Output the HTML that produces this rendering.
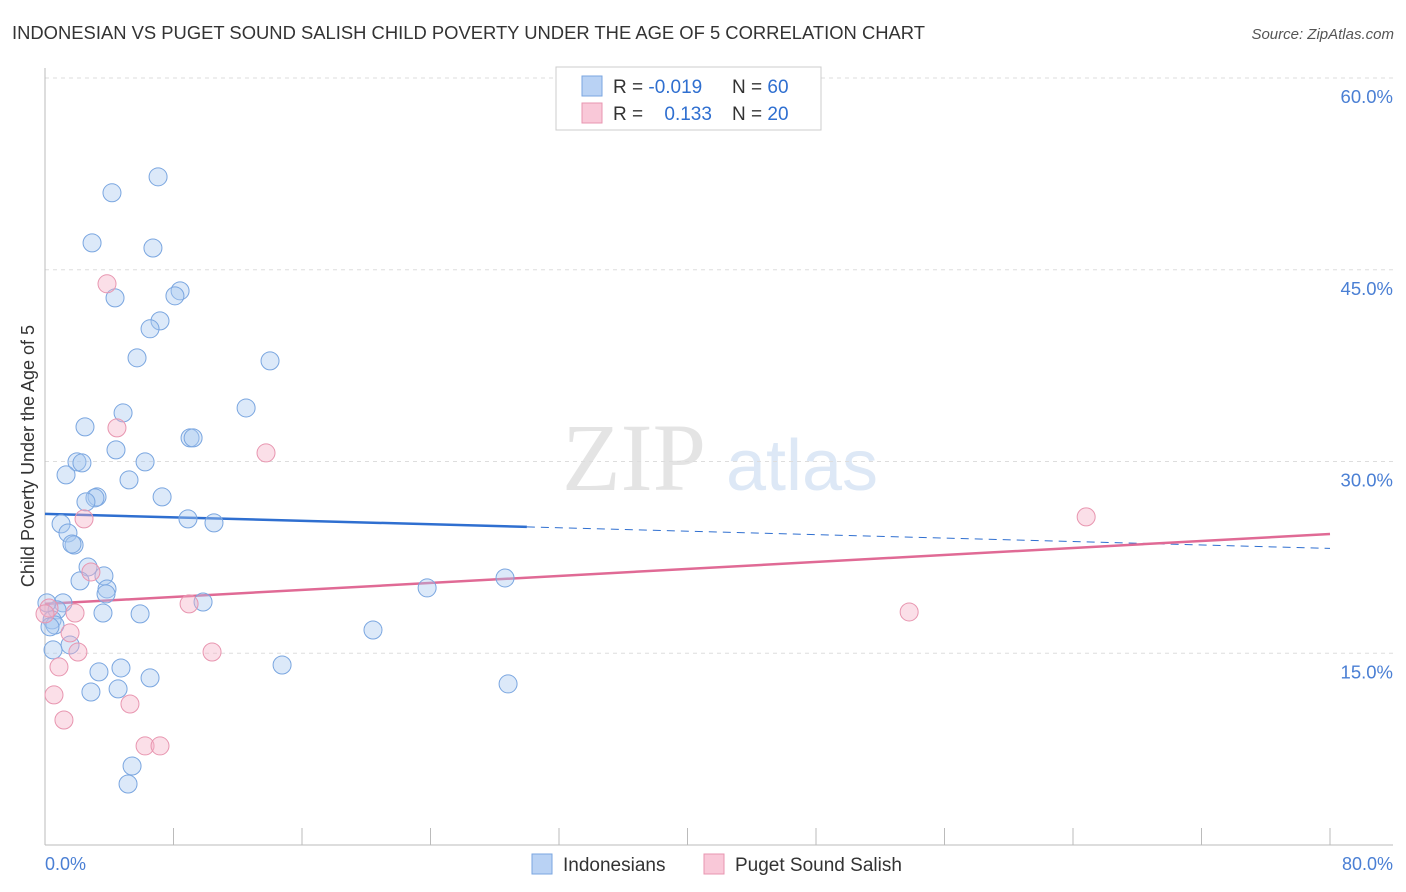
<!DOCTYPE html>
<html><head><meta charset="utf-8">
<style>
body{margin:0;background:#fff;font-family:"Liberation Sans",sans-serif;}
#wrap{position:relative;width:1406px;height:892px;overflow:hidden;}
</style></head>
<body>
<div id="wrap">
<svg id="chart" width="1406" height="892" xmlns="http://www.w3.org/2000/svg">
<text x="12" y="39" font-size="18" fill="#333" textLength="913" lengthAdjust="spacingAndGlyphs">INDONESIAN VS PUGET SOUND SALISH CHILD POVERTY UNDER THE AGE OF 5 CORRELATION CHART</text>
<text x="1394" y="39" font-size="15" fill="#555" text-anchor="end" font-style="italic">Source: ZipAtlas.com</text>
<g>
<text x="634" y="490" font-size="96" fill="#e4e4e4" text-anchor="middle" font-family="Liberation Serif,serif">ZIP</text>
<text x="802" y="490" font-size="72" fill="#dde8f6" text-anchor="middle">atlas</text>
</g>
<g id="grid"></g><g id="axes"></g><g id="lines"></g><g id="pts"></g>
<text x="34" y="456" font-size="18" fill="#333" text-anchor="middle" transform="rotate(-90 34 456)">Child Poverty Under the Age of 5</text>
<text x="45" y="870" font-size="18" fill="#4a7fd4">0.0%</text>
<text x="1393" y="870" font-size="18" fill="#4a7fd4" text-anchor="end">80.0%</text>
<g>
<rect x="556" y="67" width="265" height="63" fill="#fff" stroke="#ccc"/>
<rect x="582" y="76" width="20" height="20" fill="#b9d2f4" stroke="#7aa6e0"/>
<rect x="582" y="103" width="20" height="20" fill="#f9c8d8" stroke="#e896b0"/>
<text x="613" y="93" font-size="19" fill="#333">R = <tspan fill="#2f6fd0">-0.019</tspan></text>
<text x="732" y="93" font-size="19" fill="#333">N = <tspan fill="#2f6fd0">60</tspan></text>
<text x="613" y="120" font-size="19" fill="#333">R = <tspan fill="#2f6fd0" dx="16">0.133</tspan></text>
<text x="732" y="120" font-size="19" fill="#333">N = <tspan fill="#2f6fd0">20</tspan></text>
</g>
<g>
<rect x="532" y="854" width="20" height="20" fill="#b9d2f4" stroke="#7aa6e0"/>
<text x="563" y="871" font-size="19" fill="#333">Indonesians</text>
<rect x="704" y="854" width="20" height="20" fill="#f9c8d8" stroke="#e896b0"/>
<text x="735" y="871" font-size="19" fill="#333">Puget Sound Salish</text>
</g>
</svg>
</div>
<script>
const yTicks=[15,30,45,60];
const yTickLabels=["15.0%","30.0%","45.0%","60.0%"];
const xTicks=[0,8,16,24,32,40,48,56,64,72,80];
const blueX=[7.04,4.17,2.93,6.72,8.41,4.36,8.09,7.16,6.54,5.73,14.01,12.52,4.86,2.49,9.03,9.22,4.42,1.99,2.30,6.23,1.31,5.23,7.29,3.24,3.11,2.55,8.9,10.52,1.0,1.43,1.81,1.68,2.68,3.67,2.18,3.86,3.80,23.79,28.64,9.84,1.12,3.61,5.92,0.75,0.44,0.62,0.31,20.42,1.56,0.5,14.76,4.73,3.36,6.54,4.55,2.86,28.83,5.42,5.17,0.12];
const blueY=[52.27,51.02,47.1,46.7,43.35,42.8,42.96,41.0,40.38,38.11,37.87,34.19,33.8,32.71,31.85,31.85,30.91,29.97,29.89,29.97,28.95,28.56,27.23,27.23,27.15,26.84,25.51,25.2,25.12,24.41,23.47,23.55,21.75,21.05,20.66,20.03,19.64,20.11,20.89,19.01,18.94,18.15,18.08,18.39,17.61,17.21,17.06,16.82,15.65,15.26,14.08,13.85,13.54,13.07,12.21,11.97,12.6,6.18,4.77,18.94];
const pinkX=[3.86,4.48,13.76,64.82,2.43,2.86,0.25,1.87,8.97,53.8,1.56,2.05,10.4,0.87,0.56,5.29,1.18,6.23,7.16,0.0];
const pinkY=[43.9,32.63,30.67,25.67,25.51,21.36,18.54,18.15,18.86,18.23,16.59,15.10,15.10,13.93,11.74,11.03,9.78,7.75,7.75,18.08];
const blueTrend=[25.9,23.2];
const pinkTrend=[18.86,24.33];
const blueSolidEnd=30;

const X=v=>45+v*(1285/80);
const Y=v=>845-v*(767/60);
const NS="http://www.w3.org/2000/svg";
function mk(tag,attrs,parent){const e=document.createElementNS(NS,tag);for(const k in attrs)e.setAttribute(k,attrs[k]);document.getElementById(parent).appendChild(e);return e;}

yTicks.forEach((t,i)=>{
 const g=mk('line',{x1:45,x2:1393,y1:Y(t),y2:Y(t),stroke:'#ddd','stroke-dasharray':'4,4'},'grid');
 
 
 const l=mk('text',{x:1393,y:Y(t)+25,'font-size':18.5,fill:'#4a7fd4','text-anchor':'end'},'grid');
 l.textContent=yTickLabels[i];
 
 
});
const ya=mk('line',{x1:45,x2:45,y1:68,y2:845,stroke:'#bbb'},'axes');


const xa=mk('line',{x1:45,x2:1393,y1:845,y2:845,stroke:'#bbb'},'axes');


xTicks.forEach(t=>{
 const e=mk('line',{x1:X(t),x2:X(t),y1:828,y2:845,stroke:'#bbb'},'axes');
 
 
});
function pts(xs,ys,fill,stroke,name){
 xs.forEach((x,i)=>{
  const c=mk('circle',{cx:X(x),cy:Y(ys[i]),r:9,fill:fill,'fill-opacity':0.4,stroke:stroke,'stroke-width':1},'pts');
  
  
 });
}
pts(blueX,blueY,'#a8c8f0','#7aa6e0','indonesian-point');
pts(pinkX,pinkY,'#f5b0c6','#e896b0','puget-point');
const by=x=>blueTrend[0]+(blueTrend[1]-blueTrend[0])*x/80;
let l1=mk('line',{x1:X(0),y1:Y(by(0)),x2:X(blueSolidEnd),y2:Y(by(blueSolidEnd)),stroke:'#2f6fd0','stroke-width':2.5},'lines');


let l2=mk('line',{x1:X(blueSolidEnd),y1:Y(by(blueSolidEnd)),x2:X(80),y2:Y(by(80)),stroke:'#2f6fd0','stroke-width':1,'stroke-dasharray':'8,6'},'lines');


let l3=mk('line',{x1:X(0),y1:Y(pinkTrend[0]),x2:X(80),y2:Y(pinkTrend[1]),stroke:'#e06a95','stroke-width':2.5},'lines');


</script>
</body></html>
